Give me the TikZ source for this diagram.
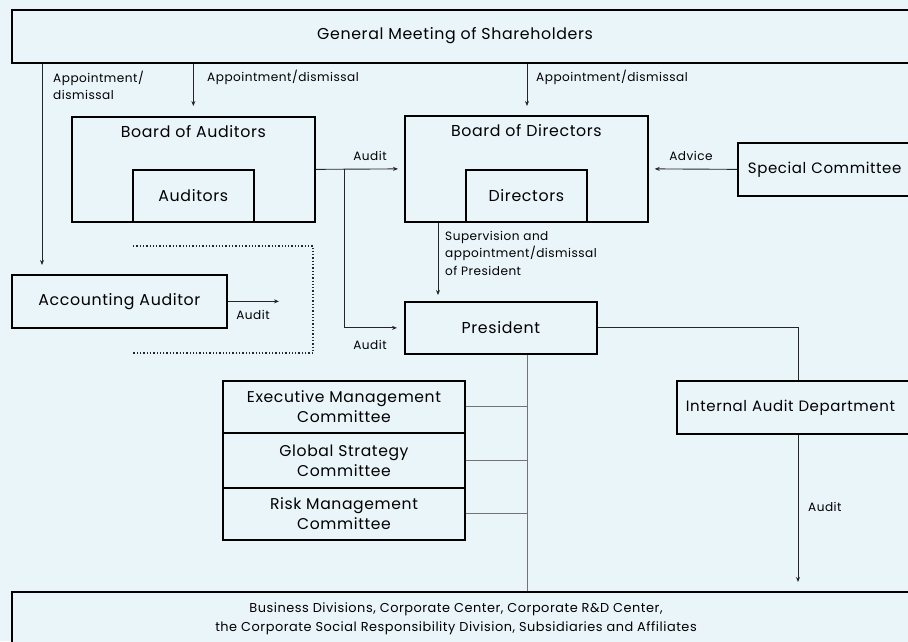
\documentclass[tikz,border=0pt]{standalone}
\usepackage{fontspec}
\setmainfont{Poppins}[LetterSpace=4]
\usetikzlibrary{positioning,arrows.meta}
\definecolor{bgblue}{RGB}{234,245,250}
\newcommand{\boxfont}{\fontsize{15.8}{19}\selectfont}
\newcommand{\edgefont}{\fontsize{15}{19}\selectfont}
\newcommand{\cmtfont}{\fontsize{15.6}{20}\selectfont}
\newcommand{\botfont}{\fontsize{12.9}{19}\selectfont}
\newcommand{\lblfont}{\fontsize{12.1}{17.5}\selectfont}
\tikzset{
  box/.style={draw=black, line width=1.7pt, fill=bgblue, rectangle, inner sep=0pt, font=\boxfont},
  boxtext/.style={inner sep=0pt, font=\boxfont, align=center},
  cmtbox/.style={box, anchor=north, minimum width=242, font=\cmtfont, align=center},
  lbl/.style={inner sep=0pt, font=\lblfont, align=left},
  conn/.style={draw=black!85, line width=0.9pt},
  arr/.style={conn, -{Stealth[length=5pt, width=4pt]}, shorten >=6pt},
  grayconn/.style={draw=black!55, line width=0.9pt}
}
\begin{document}
\begin{tikzpicture}[x=1pt, y=-1pt]
%PICTURE SCOPE
\useasboundingbox (0,0) rectangle (908,641);
\fill[bgblue] (0,0) rectangle (908,641);
\clip (0,0) rectangle (908,641);
%SHAREHOLDERS
\node (gms) [box, anchor=north west, minimum width=960, minimum height=53] at (11,9) {};
\node (gmstext) [boxtext] at (455,35.5) {General Meeting of Shareholders};
%AUDITORS AND DIRECTORS
\node (boa) [box, anchor=north west, minimum width=243, minimum height=105] at (71,116) {};
\node (boatext) [boxtext, below=9pt of boa.north] {Board of Auditors};
\node (aud) [box, anchor=south, minimum width=121, minimum height=52] at (boa.south) {Auditors};
%
\node (bod) [box, anchor=north west, minimum width=243, minimum height=106] at (404,115) {};
\node (bodtext) [boxtext, below=9pt of bod.north] {Board of Directors};
\node (dir) [box, anchor=south, minimum width=121, minimum height=52] at (bod.south) {Directors};
%
\node (spc) [box, anchor=north west, minimum height=53, text width=200, align=left, inner xsep=10pt, font=\edgefont] at (737,142) {Special Committee};
\node (acc) [box, anchor=north west, minimum width=215, minimum height=53] at (11,274) {Accounting Auditor};
\node (pres) [box, anchor=north west, minimum width=192, minimum height=52] at (404,301) {President};
\node (iad) [box, anchor=north west, minimum height=53, text width=240, align=left, inner xsep=9pt, font=\edgefont] at (676,380) {Internal Audit Department};
%COMMITTEES
\node (exc) [cmtbox, minimum height=52] at (344,380) {Executive Management\\Committee};
\node (gsc) [cmtbox, minimum height=55, below=-1.7pt of exc] {Global Strategy\\Committee};
\node (rmc) [cmtbox, minimum height=52, below=-1.7pt of gsc] {Risk Management\\Committee};
%BOTTOM
\node (bot) [box, anchor=north west, minimum width=960, minimum height=80] at (11,591) {};
\node (bottext) [boxtext, font=\botfont] at (456,618.5) {Business Divisions, Corporate Center, Corporate R\&D Center,\\the Corporate Social Responsibility Division, Subsidiaries and Affiliates};
%DOTTED AREA
\draw [dotted, line width=1.3pt, draw=black!85] (133,246) -| (313,353) -- (133,353);
%%REFERENCE POINTS
\coordinate (accin) at (42,0);
\coordinate (audsplit) at (344,0);
\coordinate (supx) at (438,0);
\coordinate (iadx) at (798,0);
\coordinate (trunk) at (527,0);
\coordinate (accaud) at (279,0);
%%CONNECTIONS
\draw [arr, shorten >=9pt] (gms.south -| accin) -- (acc.north -| accin);
\draw [arr, shorten >=10pt] (gms.south -| boa.north) -- (boa.north);
\draw [arr, shorten >=9pt] (gms.south -| trunk) -- (bod.north -| trunk);
\draw [arr] (boa.east) -- (bod.west);
\draw [arr, shorten >=7pt] (boa.east -| audsplit) |- (pres.west);
\draw [arr] (spc.west) -- (bod.east);
\draw [arr] (bod.south -| supx) -- (pres.north -| supx);
\draw [arr, shorten >=0pt] (acc.east) -- (acc.east -| accaud);
\draw [conn] (pres.east) -| (iad.north -| iadx);
\draw [arr, shorten >=9pt] (iad.south -| iadx) -- (bot.north -| iadx);
\draw [grayconn] (pres.south -| trunk) -- (bot.north -| trunk);
\foreach \c in {exc, gsc, rmc}
  \draw [grayconn] (\c.east) -- (\c.east -| trunk);
%%LABELS
\node (lblappl) [lbl, anchor=west] at (53,85.5) {Appointment/\\dismissal};
\node (lblappb) [lbl, anchor=west] at (207,77) {Appointment/dismissal};
\node (lblappd) [lbl, anchor=west] at (536,77) {Appointment/dismissal};
\node (lblaudbod) [lbl] at (370,156) {Audit};
\node (lbladvice) [lbl] at (691,156) {Advice};
\node (lblsup) [lbl, anchor=west] at (445,253) {Supervision and\\appointment/dismissal\\of President};
\node (lblaudpres) [lbl] at (370,345) {Audit};
\node (lblaudacc) [lbl] at (253,315) {Audit};
\node (lblaudiad) [lbl, anchor=west] at (808,507) {Audit};
\end{tikzpicture}
\end{document}
